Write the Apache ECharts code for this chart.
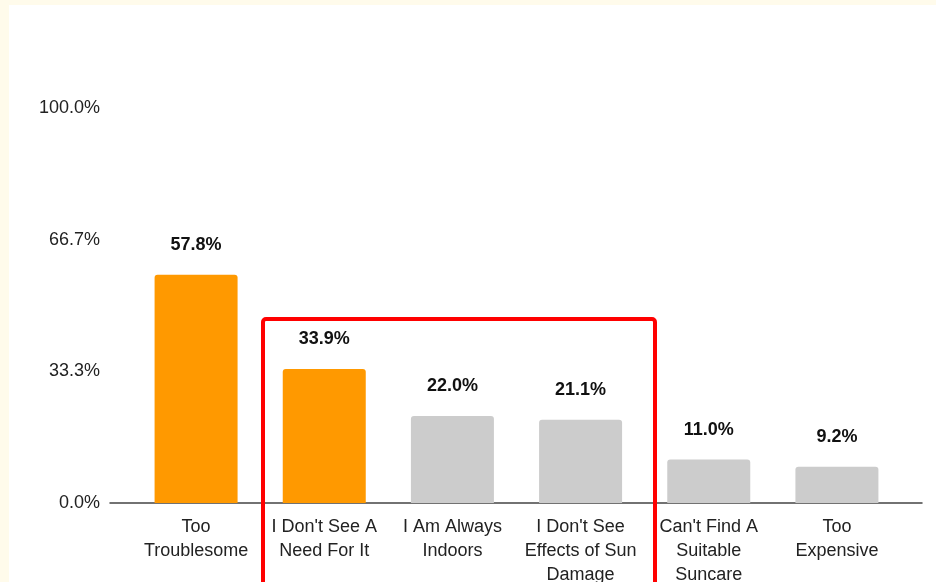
<!DOCTYPE html>
<html>
<head>
<meta charset="utf-8">
<script src="https://cdn.jsdelivr.net/npm/echarts@6/dist/echarts.min.js"></script>
<style>
  html, body { margin:0; padding:0; background:#fffbeb; width:936px; height:582px; overflow:hidden; }
  #chart { position:absolute; left:9px; top:5px; width:927px; height:577px; background:#ffffff; }
</style>
</head>
<body>
<div id="chart"></div>
<script>
const categories = ["Too\nTroublesome", "I Don't See A\nNeed For It", "I Am Always\nIndoors", "I Don't See\nEffects of Sun\nDamage", "Can't Find A\nSuitable\nSuncare", "Too\nExpensive"];
const values = [57.8, 33.9, 22.0, 21.1, 11.0, 9.2];
const highlighted = [true, true, false, false, false, false];
const yTicks = [0, 33.3, 66.7, 100];

(function () {
const ORANGE = '#ff9900', GRAY = '#cccccc';
const chart = echarts.init(document.getElementById('chart'), null, {renderer:'canvas'});
const gTop = 103, gBottom = 79;
chart.setOption({
  animation: false,
  textStyle: { fontFamily: 'Liberation Sans, Arial, sans-serif' },
  grid: [
    { left: 101, right: 14, top: gTop, bottom: gBottom, containLabel: false, outerBoundsMode: 'none' },
    { left: 123, right: 35, top: gTop, bottom: gBottom, containLabel: false, outerBoundsMode: 'none' }
  ],
  xAxis: [
    { gridIndex: 0, type: 'value', min: 0, max: 1, show: true,
      axisLine: { show: true, onZero: false, lineStyle: { color: '#444', width: 1.5 } },
      axisTick: { show: false }, axisLabel: { show: false }, splitLine: { show: false } },
    { gridIndex: 1, type: 'category', data: categories,
      axisLine: { show: false }, axisTick: { show: false },
      axisLabel: { color: '#222', fontSize: 18, lineHeight: 24, margin: 12, interval: 0,
        hideOverlap: false, fontFamily: 'Liberation Sans, Arial, sans-serif' } }
  ],
  yAxis: [
    { gridIndex: 0, type: 'value', min: 0, max: 100, interval: 100/3,
      axisLine: { show: false }, axisTick: { show: false }, splitLine: { show: false },
      axisLabel: { color: '#222', fontSize: 18, margin: 10, padding: [4, 0, 0, 0],
        formatter: v => (Math.round(v*10)/10).toFixed(1) + '%' } },
    { gridIndex: 1, type: 'value', min: 0, max: 100, show: false }
  ],
  series: [{
    type: 'bar', xAxisIndex: 1, yAxisIndex: 1,
    barWidth: 83,
    data: values.map((v, i) => ({ value: v, itemStyle: { color: highlighted[i] ? ORANGE : GRAY, borderRadius: [3,3,0,0] } })),
    label: { show: true, position: 'top', distance: 21, color: '#111', fontSize: 18, fontWeight: 'bold',
      formatter: p => p.value.toFixed(1) + '%' }
  }],
  graphic: [{
    type: 'rect', z: 100,
    shape: { x: 254, y: 314, width: 392, height: 290, r: 3 },
    style: { fill: 'none', stroke: '#ff0000', lineWidth: 4 }
  }]
});
})();
</script>
</body>
</html>
